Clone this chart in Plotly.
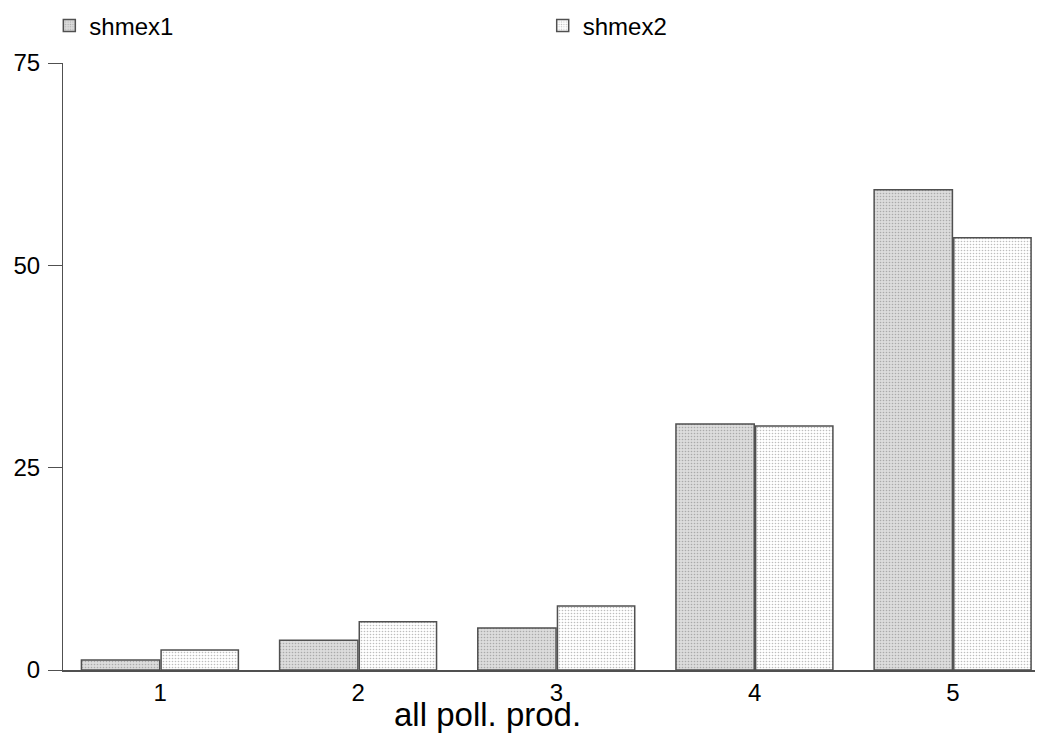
import plotly.graph_objects as go

categories = [1, 2, 3, 4, 5]
tick_labels = ["1", "2", "3", "4", "5"]
shmex1 = [1.24, 3.67, 5.19, 30.4, 59.35]
shmex2 = [2.47, 5.97, 7.91, 30.15, 53.4]
y_ticks = [0, 25, 50, 75]

FONT = "Liberation Sans, Arial, sans-serif"

fig = go.Figure()
fig.add_trace(go.Bar(
    x=categories, y=shmex1, name="shmex1", legend="legend",
    width=0.395, offset=-0.397,
    marker=dict(color="#dadada",
                line=dict(color="#505050", width=1.5),
                pattern=dict(shape=".", bgcolor="#dcdcdc", fgcolor="#aaaaaa",
                             size=3, solidity=0.22, fillmode="replace")),
))
fig.add_trace(go.Bar(
    x=categories, y=shmex2, name="shmex2", legend="legend2",
    width=0.39, offset=0.005,
    marker=dict(color="white",
                line=dict(color="#505050", width=1.5),
                pattern=dict(shape=".", bgcolor="white", fgcolor="#bdbdbd",
                             size=3, solidity=0.22, fillmode="replace")),
))

leg_common = dict(orientation="h", xanchor="left", yanchor="top",
                  font=dict(size=24, family=FONT), bgcolor="rgba(0,0,0,0)",
                  itemclick=False, itemdoubleclick=False)

# the page body has an 8px default margin, so the figure is drawn 8px in
fig.update_layout(
    template="none",
    width=1035, height=725,
    autosize=False,
    margin=dict(l=55, r=3, t=55, b=63, autoexpand=False),
    paper_bgcolor="white", plot_bgcolor="white",
    font=dict(family=FONT, color="black", size=24),
    barmode="overlay",
    showlegend=True,
    legend=dict(x=-0.014, y=1.098, **leg_common),
    legend2=dict(x=0.491, y=1.098, **leg_common),
    xaxis=dict(range=[0.51, 5.44], tickvals=categories, ticktext=tick_labels,
               showgrid=False, zeroline=False, showline=True, linecolor="#505050",
               linewidth=1.5, ticks="", automargin=False,
               tickfont=dict(size=24, family=FONT)),
    yaxis=dict(range=[0, 75], tickvals=y_ticks, showgrid=False, zeroline=False,
               showline=True, linecolor="#505050", linewidth=1.2,
               ticks="outside", ticklen=14, tickcolor="#505050", tickwidth=1.2,
               ticklabelstandoff=3, automargin=False,
               tickfont=dict(size=24, family=FONT)),
    annotations=[dict(text="all poll. prod.", xref="paper", yref="paper",
                      x=0.434, y=-0.073, xanchor="center", yanchor="middle",
                      showarrow=False, font=dict(size=33, family=FONT))],
)

fig.write_html("out.html")
